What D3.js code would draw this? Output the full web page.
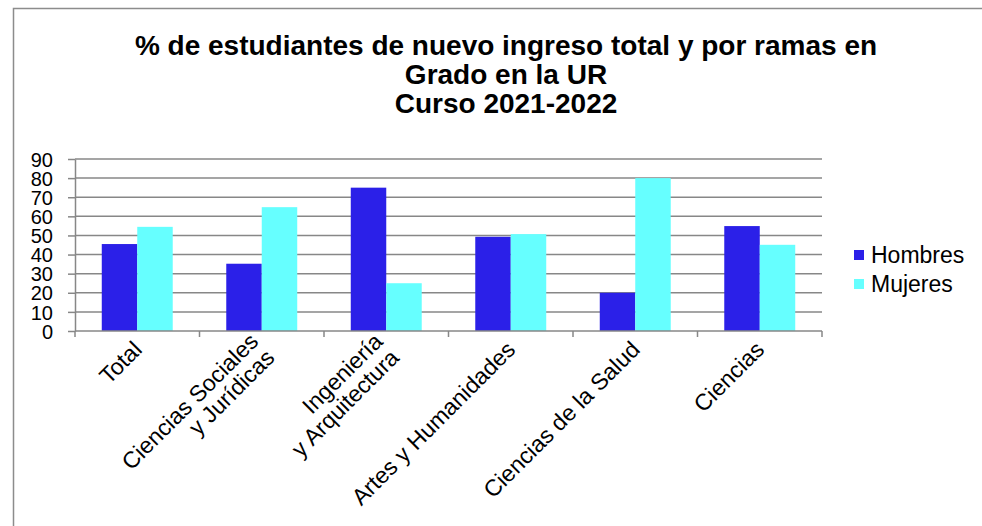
<!DOCTYPE html>
<html>
<head>
<meta charset="utf-8">
<script src="https://cdn.jsdelivr.net/npm/d3@7"></script>
<style>
html,body{margin:0;padding:0;background:#fff;}
svg{display:block;}
text{font-family:"Liberation Sans",Arial,sans-serif;}
</style>
</head>
<body>
<svg id="chart" width="982" height="526"></svg>
<script>
const categories = [
  ["Total"],
  ["Ciencias Sociales","y Jurídicas"],
  ["Ingeniería","y Arquitectura"],
  ["Artes y Humanidades"],
  ["Ciencias de la Salud"],
  ["Ciencias"]
];
const seriesNames = ["Hombres","Mujeres"];
const hombres = [45.5, 35.2, 75.0, 49.3, 20.0, 54.9];
const mujeres = [54.5, 64.8, 25.0, 50.7, 80.0, 45.1];
const yTicks = [0,10,20,30,40,50,60,70,80,90];
const titleLines = ["% de estudiantes de nuevo ingreso total y por ramas en","Grado en la UR","Curso 2021-2022"];
const colors = ["#2B20E8","#66FFFF"];

(function(){
const svg = d3.select("#chart");
svg.append("rect").attr("width",982).attr("height",526).attr("fill","#fff");
// outer frame (right/bottom edges outside the view)
svg.append("rect").attr("x",13.5).attr("y",8.5).attr("width",1100).attr("height",700)
  .attr("fill","none").attr("stroke","#8c8c8c").attr("stroke-width",1.5);

// title
const title = svg.append("text").attr("text-anchor","middle")
  .attr("font-weight","bold").attr("font-size",28).attr("fill","#000");
titleLines.forEach((t,i)=>{
  title.append("tspan").attr("x",506).attr("y",55+i*29).text(t);
});

const pL=75, pR=822, pT=159, pB=331;
const keys = categories.map(c=>c.join(" "));
const x = d3.scaleBand().domain(keys).range([pL,pR]).padding(0);
const y = d3.scaleLinear().domain([0,90]).range([pB,pT]);
const bw = x.bandwidth()*0.285;

// gridlines
svg.append("g").selectAll("line").data(yTicks.filter(d=>d>0)).join("line")
  .attr("x1",pL).attr("x2",pR).attr("y1",d=>y(d)).attr("y2",d=>y(d))
  .attr("stroke","#878787").attr("stroke-width",1.5);

// bars
const data = keys.map((k,i)=>({k, v:[hombres[i],mujeres[i]]}));
const g = svg.append("g");
data.forEach(d=>{
  const cx = x(d.k)+x.bandwidth()/2;
  d.v.forEach((v,j)=>{
    g.append("rect").attr("x", cx - bw + j*bw).attr("width",bw)
      .attr("y",y(v)).attr("height",y(0)-y(v)).attr("fill",colors[j]);
  });
});

// y axis
const yAxis = svg.append("g").attr("transform",`translate(${pL},0)`)
  .call(d3.axisLeft(y).tickValues(yTicks).tickSizeInner(7).tickSizeOuter(0).tickPadding(15));
yAxis.select(".domain").attr("stroke","#878787").attr("stroke-width",1.5);
yAxis.selectAll(".tick line").attr("stroke","#878787").attr("stroke-width",1.5);
yAxis.selectAll(".tick text").attr("font-size",20).attr("fill","#000")
  .attr("font-family","Liberation Sans, Arial, sans-serif").attr("dy","0.36em");

// x axis line and ticks at boundaries
svg.append("line").attr("x1",pL).attr("x2",pR).attr("y1",pB).attr("y2",pB)
  .attr("stroke","#878787").attr("stroke-width",1.5);
const bounds = keys.map(k=>x(k)).concat([pR]);
svg.append("g").selectAll("line").data(bounds).join("line")
  .attr("x1",d=>d).attr("x2",d=>d).attr("y1",pB).attr("y2",pB+6)
  .attr("stroke","#878787").attr("stroke-width",1.5);

// x labels
categories.forEach((lines,i)=>{
  const cx = x(keys[i])+x.bandwidth()/2;
  const n = lines.length;
  const t = svg.append("text").attr("text-anchor","end").attr("font-size",23).attr("fill","#000")
    .attr("transform",`translate(${cx+6},${pB+20}) rotate(-45)`);
  lines.forEach((l,j)=>{
    t.append("tspan").attr("x",0).attr("y",(j-(n-1)/2)*23).text(l);
  });
});

// legend
const lg = svg.append("g");
seriesNames.forEach((s,i)=>{
  const yy = 255 + i*29;
  lg.append("rect").attr("x",854).attr("y",yy-5).attr("width",10).attr("height",10).attr("fill",colors[i]);
  lg.append("text").attr("x",871).attr("y",yy+8).attr("font-size",23).attr("fill","#000").text(s);
});
})();
</script>
</body>
</html>
